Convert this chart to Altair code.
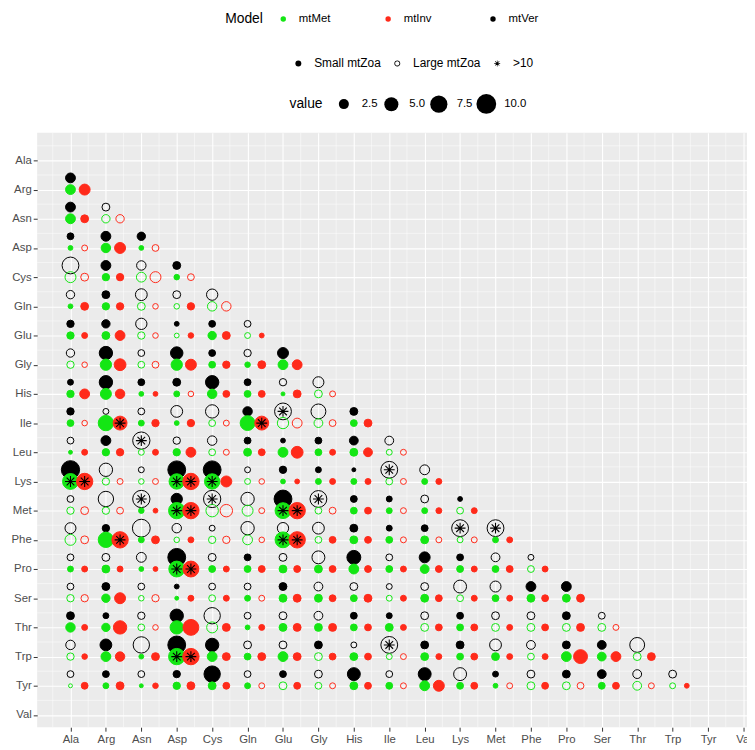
import json
import math
import altair as alt
import pandas as pd

AMINO = ['Ala', 'Arg', 'Asn', 'Asp', 'Cys', 'Gln', 'Glu', 'Gly', 'His', 'Ile',
         'Leu', 'Lys', 'Met', 'Phe', 'Pro', 'Ser', 'Thr', 'Trp', 'Tyr', 'Val']
MODELS = ['mtMet', 'mtInv', 'mtVer']
MODEL_COLORS = ['#14E614', '#FF2A1A', '#000000']
ZOA = ['Small mtZoa', 'Large mtZoa', '>10']

# one string per row (Arg .. Tyr), one token per column (Ala ..):
# value + f (Small mtZoa, filled) / o (Large mtZoa, open), * = >10
VER = [
    "2.4f",
    "2.4f 1.5o",
    "1.1f 2.4f 1.7f",
    "7.2o 2.4f 2.2o 1.5f",
    "1.7o 1.5f 3.5o 1.5o 3.2o",
    "1.3f 1.7f 3.2o 0.5f 1.1f 1.1o",
    "1.7o 4.5f 1.1o 3.9f 1.1f 1.3o 3.0f",
    "0.8f 4.5f 1.1f 1.5f 4.5f 1.1f 1.3o 3.0o",
    "1.3f 0.8o 1.1o 3.5o 4.5o 2.2f 7.2o* 5.6o 1.5f",
    "1.1o 2.4f 7.6o* 1.3o 2.2o 1.1f 0.5f 1.1f 1.9f 1.9o",
    "8.5f 4.5o 0.8o 8.1f 8.1f 0.8o 1.3f 0.8f 0.3f 7.2o* 2.4o",
    "1.1o 6.0o 7.6o* 3.2f 7.6o* 4.5o 8.1f 7.2o* 1.1f 0.8f 1.5o 0.5f",
    "3.0o 1.3f 8.1o 2.2o 0.8o 4.5o 3.2o 3.5o 1.5f 0.8f 1.1f 7.2o* 7.2o*",
    "1.1o 1.5o 2.4o 8.1f 1.5o 1.1f 1.5o 4.2o 4.9f 1.1o 3.0f 1.1f 1.9o 0.8o",
    "1.1o 1.5f 1.1o 0.5f 1.1o 1.1o 1.5f 1.9o 1.5o 0.8o 1.5o 4.2o 3.0o 2.4f 2.4f",
    "1.5f 0.8f 1.3o 4.5f 6.8o 1.1o 1.5o 1.9o 1.1f 0.8f 1.5o 1.1f 1.5o 1.5o 1.5f 1.1o",
    "2.2o 3.5f 6.8o 8.1f 4.5f 1.5o 1.5o 1.5f 0.8o 7.2o* 1.5f 1.5f 3.5o 1.9o 1.5f 1.9f 5.6o",
    "1.1o 1.1f 1.1o 1.3f 6.8f 1.1o 1.1f 1.5o 4.2f 1.1o 4.2f 4.2o 0.8f 1.5o 1.5f 1.9f 1.9o 1.5o",
]
MET = [
    "2.4f",
    "2.4f 1.7o",
    "0.5f 2.2f 0.5f",
    "3.0o 1.3f 2.4o 0.7f",
    "0.5f 1.3f 1.5o 0.7o 2.2o",
    "1.3f 1.5f 1.3o 0.5o 1.7f 0.8o",
    "1.3o 3.2f 1.1o 3.2f 1.1f 0.7f 2.4f",
    "1.3f 3.0f 0.5f 0.8f 2.2f 1.1f 0.3f 1.5o",
    "1.1f 6.0f 0.8f 0.5f 1.1o 5.6f 3.2o 1.9o 1.1f",
    "0.3f 1.3f 0.8o 1.3f 1.1o 1.5f 2.4f 1.1f 1.5f 0.8o",
    "6.4f* 1.3o 0.7o 6.0f* 6.0f* 0.8o 0.5f 0.8f 0.8f 1.1o 0.8f",
    "1.3o 1.3o 0.7f 6.8f* 3.9o 3.0o 6.4f* 1.1o 1.1f 0.8f 0.8f 1.1o",
    "3.0o 6.0f 0.8f 0.7o 1.3o 2.4o 6.4f* 1.1o 1.5f 1.1f 1.5f 0.8o 0.8f",
    "0.8f 1.5f 0.5f 6.4f* 1.1f 1.1f 1.5f 1.5f 2.4f 1.1f 1.9f 1.1f 1.1f 1.1o",
    "1.3o 1.7f 0.7o 0.3f 1.1o 0.8f 1.5f 1.5f 1.1f 0.8o 1.5f 1.1o 1.1f 1.5f 1.5f",
    "2.2f 1.7f 1.1o 4.5f 3.0o 0.5f 1.5f 1.5f 1.1f 1.5f 1.5o 1.1f 1.5o 1.5o 1.5o 1.5o",
    "1.3o 2.4f 0.5f 6.8f* 2.4f 1.1f 2.4f 1.5o 1.5f 0.8o 1.5f 1.1f 1.5f 1.1o 2.4f 1.9f 1.5o",
    "0.3o 0.8f 0.3f 1.3f 1.5f 0.8f 1.5o 1.1o 1.5f 1.1f 2.4f 1.1f 0.5f 1.5o 1.5o 1.1f 1.9o 0.8o",
]
INV = [
    "3.0f",
    "1.5f 1.7o",
    "0.8o 3.0f 1.1o",
    "1.5o 1.3f 3.0o 1.1o",
    "1.5f 1.3f 0.7o 1.3f 2.2o",
    "0.8f 2.4f 0.7o 0.7f 1.5f 0.5f",
    "0.7o 3.5f 1.1o 3.0f 1.3f 1.5f 2.4f",
    "2.4f 2.2f 0.5f 0.7o 1.1f 1.1f 1.5f 0.8o",
    "0.7o 4.9f* 1.3f 1.3f 0.8o 4.9f* 2.4o 1.1o 1.5f",
    "0.8f 1.3f 0.8f 2.4f 0.8o 1.1f 3.5f 0.8f 1.9f 0.8o",
    "6.8f* 0.8o 0.8o 6.8f* 3.0f 0.7o 0.5f 0.8f 0.8f 0.8o 0.8f",
    "1.5o 1.1o 0.5f 6.8f* 3.9o 0.8o 6.8f* 1.1o 1.1f 0.8o 0.8f 0.8f",
    "1.5o 6.8f* 1.5f 0.8f 1.3o 0.7o 6.8f* 1.1f 1.1f 0.8o 0.8o 0.8o 0.8f",
    "0.8f 0.8f 0.5f 6.4f* 0.8f 1.1f 1.1f 1.1f 1.1f 0.8f 1.1f 0.8f 1.1f 0.8f",
    "1.3o 3.0f 1.3o 0.8f 0.8f 0.8o 1.5f 1.1f 1.5f 0.8f 1.1f 0.8f 0.8f 1.1f 1.5f",
    "0.8f 4.5f 0.7o 6.4f 1.5f 0.8f 1.5f 1.5f 1.1f 0.8f 1.1f 1.1f 0.8f 1.1f 1.5f 0.8o",
    "0.7f 2.2f 1.5f 6.8f* 1.5f 1.5f 1.5f 1.1f 1.1f 0.8o 0.8f 1.1f 0.8f 0.8f 4.9f 2.4f 1.5f",
    "1.1f 1.5f 0.7f 1.5f 1.1f 0.8o 1.1f 0.8o 1.1f 0.8o 3.0f 1.1f 0.8o 1.1f 1.1o 1.1f 0.8o 0.5f",
]

# ---- build the long table ----
OFFSET = {'mtVer': (0.0, -0.4), 'mtMet': (0.0, 0.0), 'mtInv': (0.4, 0.0)}
records = []
for model, rows in (('mtVer', VER), ('mtMet', MET), ('mtInv', INV)):
    for ri, row in enumerate(rows):
        r = ri + 2
        for ci, tok in enumerate(row.split()):
            c = ci + 1
            star = tok.endswith('*')
            t = tok.rstrip('*')
            small = t[-1] == 'f'
            dx, dy = OFFSET[model]
            records.append(dict(Model=model, x=c + dx, y=r + dy, value=float(t[:-1]),
                                zoa='Small mtZoa' if small else 'Large mtZoa',
                                fillKey=model if small else 'none',
                                flag='>10', star=star))
df = pd.DataFrame(records)
stars_df = df[df['star']]
minor_df = pd.DataFrame({'m': [k + 0.5 for k in range(20)]})

# ---- shapes ----
def bar(angle_deg, L=1.0, w=0.1):
    a = math.radians(angle_deg)
    ux, uy = math.cos(a), math.sin(a)
    nx, ny = -uy, ux
    pts = [(L * ux + w * nx, L * uy + w * ny), (L * ux - w * nx, L * uy - w * ny),
           (-L * ux - w * nx, -L * uy - w * ny), (-L * ux + w * nx, -L * uy + w * ny)]
    return "M" + "L".join(f"{px:.3f},{py:.3f}" for px, py in pts) + "Z"

ASTERISK = "".join(bar(a) for a in (0, 45, 90, 135))
RING = ("M1,0A1,1,0,1,1,-1,0A1,1,0,1,1,1,0Z"
        "M0.72,0A0.72,0.72,0,1,0,-0.72,0A0.72,0.72,0,1,0,0.72,0Z")

label_expr = "%s[datum.value - 1]" % json.dumps(AMINO)
axis_common = dict(values=list(range(1, 21)), labelExpr=label_expr, title=None, domain=False,
                   tickSize=4, tickColor='#333333', tickWidth=1, labelColor='#4D4D4D',
                   labelFontSize=11.5, labelPadding=2, grid=True, gridColor='white',
                   gridWidth=1.1, labelFlush=False, labelOverlap=False, labelBound=False)
x_axis = alt.Axis(**axis_common)
y_axis = alt.Axis(**axis_common)

xs = alt.Scale(domain=[0.06, 20.1], nice=False, zero=False)
ys = alt.Scale(domain=[0.05, 20.42], nice=False, zero=False, reverse=True)

minor_v = alt.Chart(minor_df).mark_rule(color='white', strokeWidth=0.5).encode(
    x=alt.X('m:Q', scale=xs, axis=x_axis))
minor_h = alt.Chart(minor_df).mark_rule(color='white', strokeWidth=0.5).encode(
    y=alt.Y('m:Q', scale=ys, axis=y_axis))

fill_scale = alt.Scale(domain=MODELS + ['none'], range=MODEL_COLORS + ['transparent'])
stroke_scale = alt.Scale(domain=MODELS, range=MODEL_COLORS)

points = alt.Chart(df).mark_point(filled=True, opacity=1, shape='circle', strokeWidth=1).encode(
    x=alt.X('x:Q', scale=xs, axis=x_axis),
    y=alt.Y('y:Q', scale=ys, axis=y_axis),
    color=alt.Color('fillKey:N', scale=fill_scale,
                    legend=alt.Legend(title='Model', values=MODELS, orient='none',
                                      legendX=190, legendY=-121,
                                      direction='horizontal', columns=3, titleOrient='left',
                                      titleFontSize=14, titleFontWeight='normal',
                                      titleColor='black', labelFontSize=11.5, labelColor='black',
                                      symbolType='circle', symbolSize=30, symbolStrokeWidth=0,
                                      columnPadding=52, gridAlign='all', labelOffset=10,
                                      titlePadding=14, titleBaseline='middle')),
    stroke=alt.Stroke('Model:N', scale=stroke_scale, legend=None),
    size=alt.Size('value:Q', scale=alt.Scale(domain=[0, 10], range=[4, 400], clamp=True),
                  legend=alt.Legend(title='value', orient='none', legendX=255, legendY=-39,
                                    direction='horizontal', columns=4, titleOrient='left',
                                    values=[2.5, 5, 7.5, 10], format='.1f',
                                    titleFontSize=14, titleFontWeight='normal',
                                    titleColor='black', labelFontSize=11.5, labelColor='black',
                                    symbolType='circle', symbolFillColor='black',
                                    symbolStrokeColor='black', symbolStrokeWidth=0,
                                    columnPadding=4, labelOffset=8, titlePadding=11,
                                    titleBaseline='middle')),
)

stars = alt.Chart(stars_df).mark_point(filled=True, opacity=1, color='black', size=120).encode(
    x=alt.X('x:Q', scale=xs, axis=x_axis),
    y=alt.Y('y:Q', scale=ys, axis=y_axis),
    shape=alt.Shape('flag:N', scale=alt.Scale(domain=ZOA, range=['circle', RING, ASTERISK]),
                    legend=alt.Legend(title=None, orient='none', legendX=258, legendY=-76,
                                      direction='horizontal', columns=3, labelFontSize=12,
                                      labelColor='black', symbolSize=36, symbolFillColor='black',
                                      symbolStrokeWidth=0, columnPadding=10, labelOffset=10)),
)

chart = alt.layer(minor_v, minor_h, points, stars).properties(
    width=717.5, height=601,
    autosize=alt.AutoSizeParams(type='none'),
    padding={'left': 29.5, 'top': 122, 'right': 0, 'bottom': 19},
).configure(
    font='Liberation Sans'
).configure_view(
    fill='#EBEBEB', stroke='transparent', strokeWidth=0
).configure_legend(
    padding=0, symbolBaseFillColor='black', symbolBaseStrokeColor='black'
)

chart.save("out.html", embed_options={"renderer": "svg", "actions": False})
